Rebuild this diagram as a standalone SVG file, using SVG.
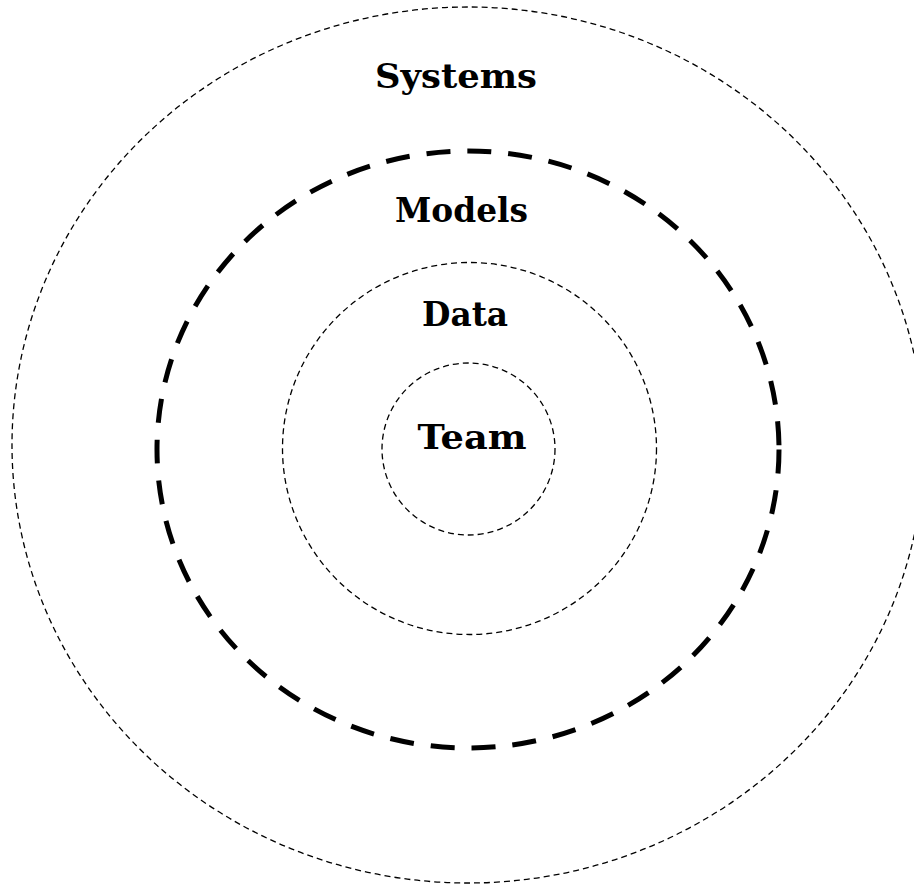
<svg xmlns="http://www.w3.org/2000/svg" width="914" height="892" viewBox="0 0 914 892">
<style>
.thin{fill:none;stroke:#000;stroke-width:1.3;stroke-dasharray:6 4}
.thick{fill:none;stroke:#000;stroke-width:5;stroke-dasharray:24 17}
.lbl{font-family:"DejaVu Serif","Liberation Serif",serif;font-weight:bold;font-size:34px;fill:#000;text-anchor:middle}
</style>
<rect width="914" height="892" fill="#fff"/>
<g id="systems">
<ellipse class="thin" cx="468" cy="445" rx="456" ry="438"/>
<text class="lbl" x="456" y="88" textLength="162" lengthAdjust="spacingAndGlyphs">Systems</text>
</g>
<g id="models">
<ellipse class="thick" cx="468" cy="449.5" rx="311" ry="298.5"/>
<text class="lbl" x="461.5" y="222" textLength="133" lengthAdjust="spacingAndGlyphs">Models</text>
</g>
<g id="data">
<ellipse class="thin" cx="469.5" cy="448.5" rx="187" ry="186"/>
<text class="lbl" x="465" y="326" textLength="86" lengthAdjust="spacingAndGlyphs">Data</text>
</g>
<g id="team">
<ellipse class="thin" cx="468.5" cy="449" rx="86.5" ry="86"/>
<text class="lbl" x="472" y="449" textLength="109" lengthAdjust="spacingAndGlyphs">Team</text>
</g>
<g id="connectors"/>
</svg>
